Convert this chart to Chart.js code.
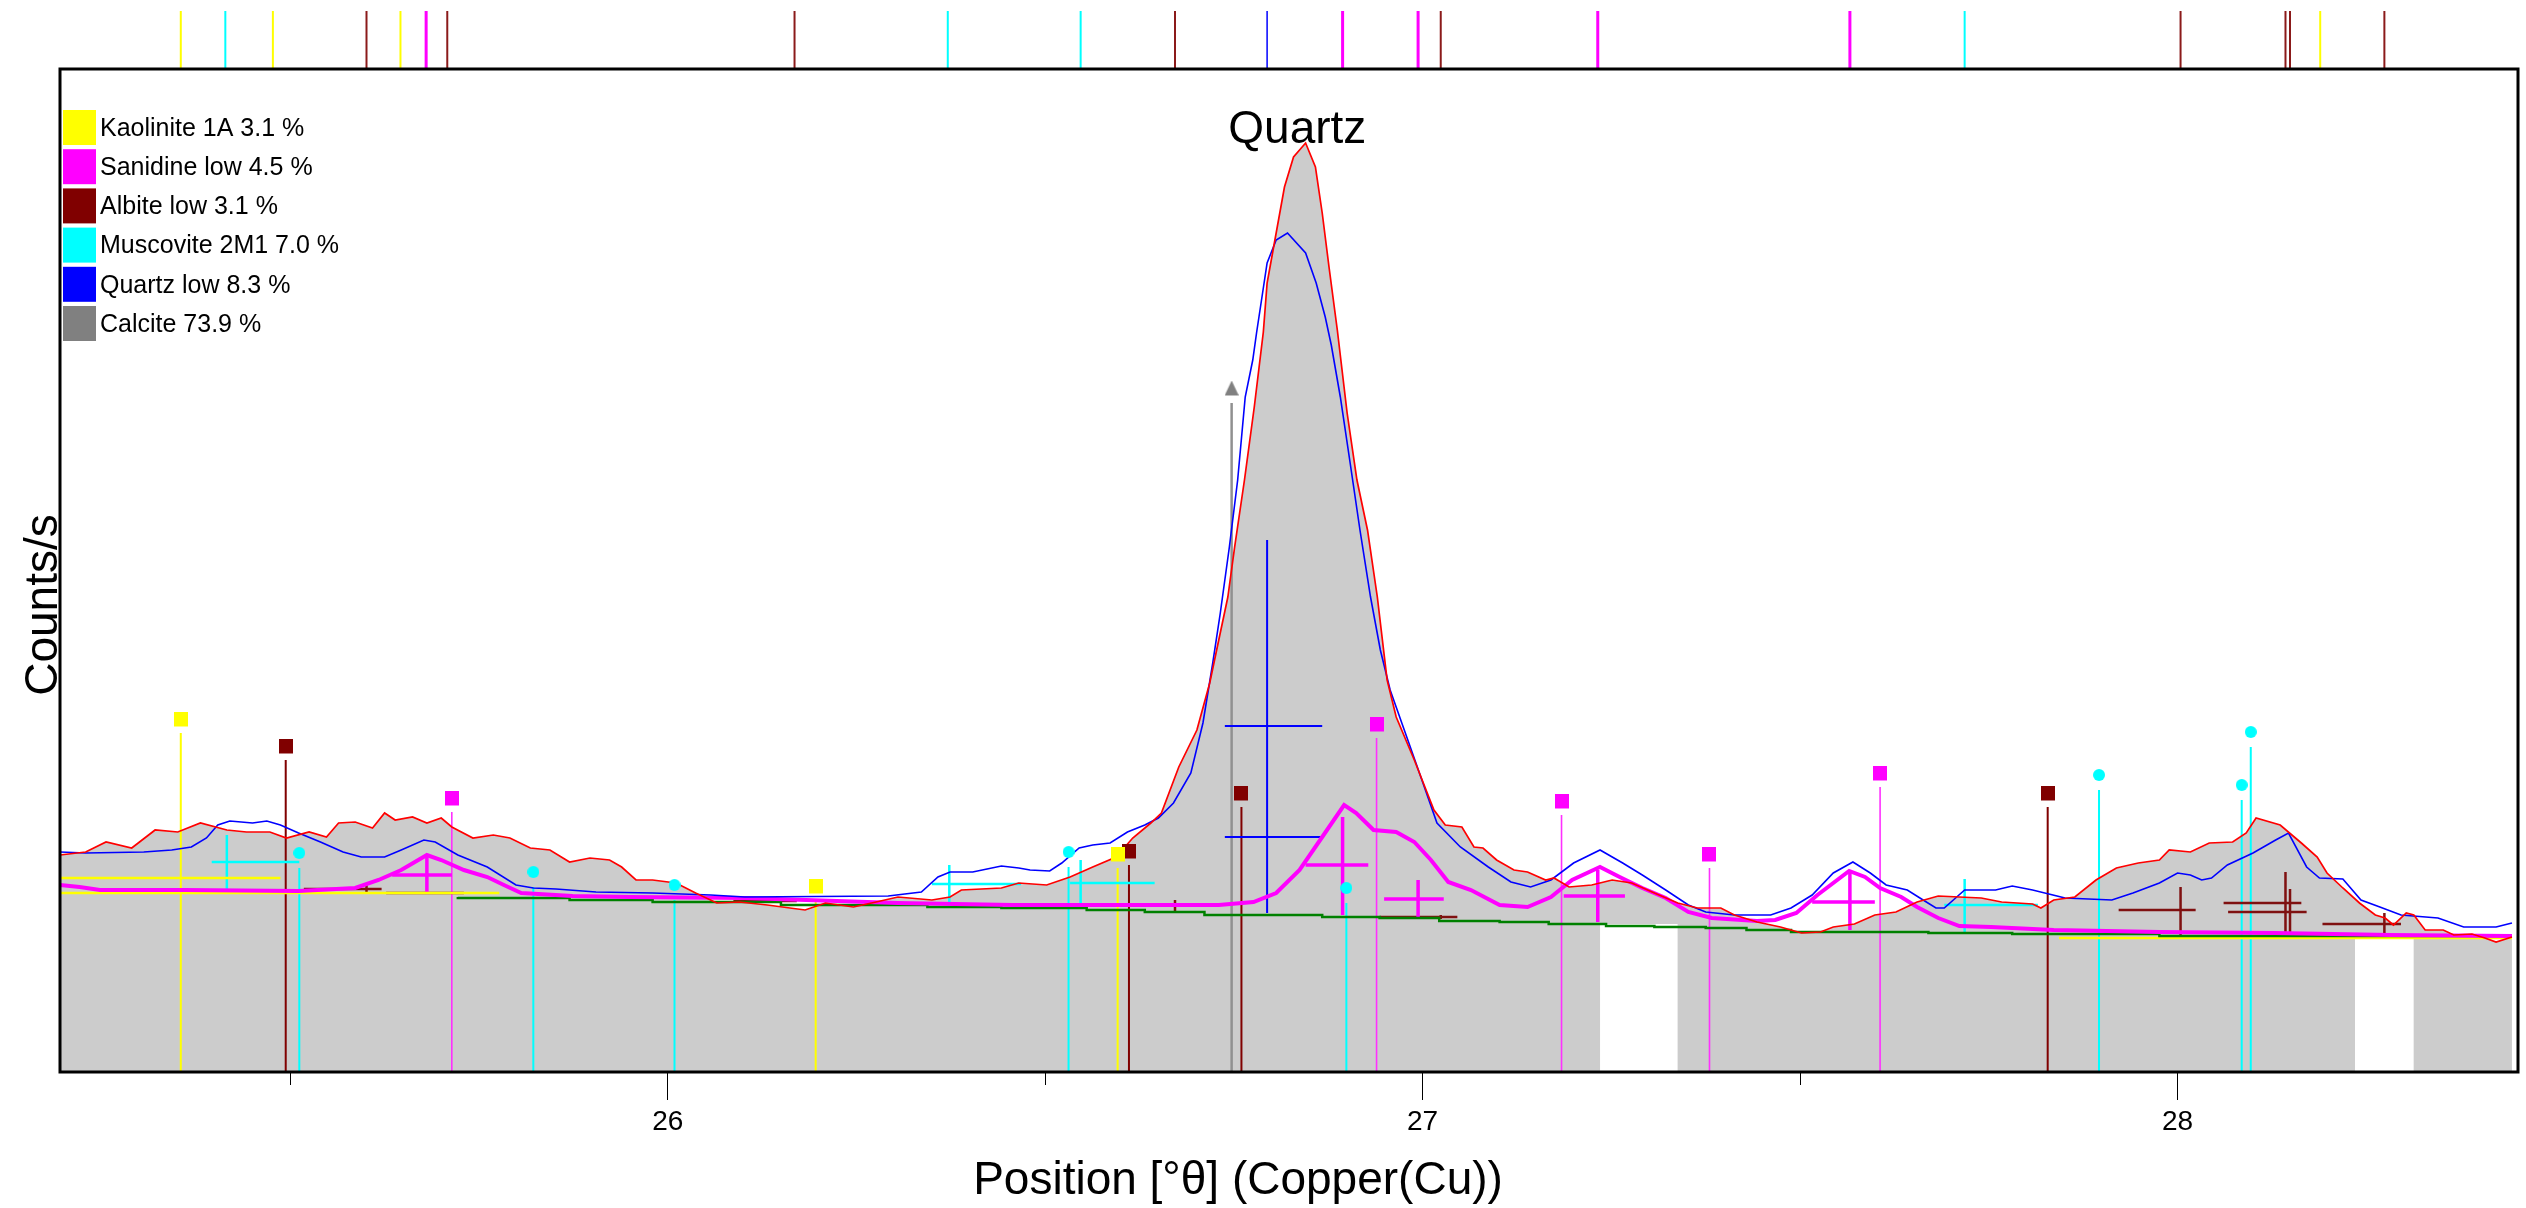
<!DOCTYPE html>
<html>
<head>
<meta charset="utf-8">
<script src="https://cdn.jsdelivr.net/npm/chart.js@4.4.0/dist/chart.umd.min.js"></script>
<style>
  html, body { margin: 0; padding: 0; background: #fff; }
  #wrap { width: 2526px; height: 1208px; }
</style>
</head>
<body>
<div id="wrap"><canvas id="xrd" width="2526" height="1208"></canvas></div>
<script>
// axis range (degrees) and counts
const xMin = 25.195, xMax = 28.451;
const yMax = 1003;
const xMinorTicks = [25.5, 26.5, 27.5];

// measured profile (red)
const observed = [
  [25.195,217],[25.229,220],[25.256,230],[25.290,224],[25.321,242],[25.351,240],[25.381,249],[25.416,242],[25.442,240],[25.473,240],
  [25.495,234],[25.525,240],[25.548,235],[25.564,249],[25.586,250],[25.609,244],[25.625,259],[25.639,252],[25.662,255],[25.681,249],
  [25.700,254],[25.714,245],[25.742,234],[25.769,237],[25.791,234],[25.818,224],[25.844,222],[25.870,210],[25.897,214],[25.923,212],
  [25.939,205],[25.958,192],[25.980,192],[26.011,189],[26.037,179],[26.065,169],[26.095,170],[26.132,167],[26.182,162],[26.209,169],
  [26.246,165],[26.276,170],[26.305,175],[26.350,172],[26.374,175],[26.389,182],[26.442,184],[26.465,189],[26.502,187],[26.533,195],
  [26.563,205],[26.594,215],[26.616,234],[26.640,249],[26.654,259],[26.677,305],[26.701,342],[26.718,389],[26.728,425],[26.742,475],
  [26.751,525],[26.764,592],[26.777,665],[26.789,740],[26.794,789],[26.806,839],[26.817,885],[26.829,915],[26.845,929],[26.858,905],
  [26.867,859],[26.876,805],[26.887,742],[26.900,659],[26.913,592],[26.927,542],[26.940,475],[26.953,392],[26.965,355],[26.989,312],
  [27.015,262],[27.030,247],[27.052,245],[27.068,225],[27.080,224],[27.098,212],[27.121,202],[27.139,200],[27.163,192],[27.174,194],
  [27.194,185],[27.224,187],[27.251,192],[27.277,189],[27.307,179],[27.338,169],[27.364,164],[27.395,164],[27.413,157],[27.443,150],
  [27.474,145],[27.502,139],[27.527,140],[27.544,145],[27.572,148],[27.599,157],[27.627,160],[27.655,170],[27.683,176],[27.711,175],
  [27.740,174],[27.767,170],[27.808,168],[27.819,164],[27.836,172],[27.864,175],[27.892,192],[27.919,204],[27.948,209],[27.976,212],
  [27.989,222],[28.017,220],[28.042,229],[28.073,230],[28.091,239],[28.104,254],[28.136,247],[28.164,229],[28.185,215],[28.198,199],
  [28.219,184],[28.241,169],[28.262,157],[28.275,154],[28.286,147],[28.303,159],[28.313,157],[28.328,142],[28.352,142],[28.366,137],
  [28.390,138],[28.407,134],[28.422,130],[28.443,135]
];

// calculated profile (blue)
const calculated = [
  [25.195,220],[25.229,219],[25.306,220],[25.343,222],[25.369,225],[25.389,234],[25.404,247],[25.420,251],[25.450,249],[25.469,251],
  [25.487,247],[25.511,239],[25.540,230],[25.570,220],[25.594,215],[25.625,215],[25.647,222],[25.677,232],[25.692,230],[25.722,217],
  [25.761,205],[25.799,187],[25.822,184],[25.852,183],[25.905,180],[25.980,179],[26.057,177],[26.102,175],[26.292,176],[26.336,180],
  [26.358,195],[26.374,200],[26.404,200],[26.442,206],[26.465,204],[26.480,202],[26.506,201],[26.522,209],[26.545,224],[26.563,227],
  [26.586,229],[26.609,240],[26.632,247],[26.650,254],[26.670,269],[26.693,299],[26.709,349],[26.722,409],[26.732,459],[26.744,525],
  [26.755,592],[26.765,675],[26.775,712],[26.780,739],[26.788,779],[26.794,809],[26.806,832],[26.821,839],[26.845,819],[26.859,789],
  [26.871,755],[26.879,727],[26.891,675],[26.904,609],[26.917,542],[26.931,475],[26.944,422],[26.957,382],[26.993,305],[27.019,249],
  [27.050,225],[27.087,205],[27.117,190],[27.143,185],[27.170,192],[27.200,209],[27.235,222],[27.265,209],[27.291,197],[27.322,182],
  [27.352,167],[27.375,160],[27.413,157],[27.461,157],[27.488,164],[27.516,177],[27.544,199],[27.570,210],[27.593,199],[27.614,187],
  [27.642,182],[27.663,172],[27.680,164],[27.691,164],[27.718,182],[27.759,182],[27.781,186],[27.808,182],[27.851,174],[27.913,172],
  [27.941,179],[27.976,189],[28.000,199],[28.017,197],[28.032,192],[28.045,194],[28.066,207],[28.100,219],[28.130,232],[28.147,239],
  [28.171,205],[28.188,194],[28.219,193],[28.243,172],[28.268,165],[28.296,157],[28.345,154],[28.379,145],[28.422,145],[28.443,149]
];

// sanidine profile (thick magenta)
const sanidineProfile = [
  [25.195,187],[25.221,185],[25.248,182],[25.359,182],[25.511,181],[25.586,184],[25.617,192],[25.647,202],[25.681,217],[25.700,212],
  [25.730,202],[25.761,195],[25.783,187],[25.806,179],[25.874,176],[25.950,175],[26.102,174],[26.305,169],[26.457,167],[26.730,167],
  [26.776,170],[26.806,179],[26.837,202],[26.867,235],[26.896,267],[26.912,259],[26.935,242],[26.965,240],[26.989,230],[27.011,212],
  [27.034,190],[27.064,182],[27.102,167],[27.139,165],[27.170,175],[27.198,192],[27.235,205],[27.261,195],[27.291,184],[27.322,174],
  [27.352,160],[27.383,154],[27.443,151],[27.467,152],[27.495,159],[27.523,177],[27.565,201],[27.586,195],[27.606,184],[27.634,175],
  [27.655,165],[27.683,154],[27.711,146],[27.753,145],[27.836,142],[27.976,140],[28.130,139],[28.282,137],[28.443,136]
];

// background (green)
const background = [
  [25.722,175],[25.870,174],[25.980,172],[26.150,170],[26.344,167],[26.442,165],[26.555,164],[26.632,162],[26.711,160],[26.867,157],
  [26.943,155],[27.022,154],[27.102,151],[27.167,150],[27.243,148],[27.307,146],[27.375,145],[27.429,144],[27.488,142],[27.670,140],
  [27.781,139],[27.976,138],[28.443,136]
];

// kaolinite profile pieces: [x1, y1, x2, y2]
const kaoliniteLines = [[25.195,179,25.777,179],[25.195,194,25.487,194],[27.843,134,28.443,134]];

// excluded ranges: [from, to, level]
const excluded = [[27.235,27.338,148],[28.235,28.313,136]];

// phases
const phaseNames = ['Kaolinite 1A', 'Sanidine low', 'Albite low', 'Muscovite 2M1', 'Quartz low', 'Calcite'];
const phasePercent = [3.1, 4.5, 3.1, 7.0, 8.3, 73.9];
const phaseColors = ['#ffff00', '#ff00ff', '#800000', '#00ffff', '#0000ff', '#808080'];

// reference sticks: [position, height]
const kaoliniteSticks = [[25.355,339],[26.196,172],[26.596,204]];
const albiteSticks = [[25.494,312],[26.611,207],[26.760,265],[27.828,265]];
const sanidineSticks = [[25.714,260],[26.939,334],[27.184,257],[27.380,204],[27.606,285]];
const muscoviteSticks = [[25.512,204],[25.822,185],[26.009,172],[26.531,205],[26.899,169],[27.896,282],[28.085,272],[28.097,325]];
const calciteSticks = [[26.747,669]];

// fitted peaks: [position, bottom, top, bar level, bar from, bar to]
const quartzCrosses = [[26.794,159,532,346,26.738,26.867],[26.794,159,532,235,26.738,26.867]];
const sanidineCrosses = [
  [25.681,179,217,197,25.635,25.714],[26.894,157,255,207,26.845,26.928],[26.994,155,192,173,26.949,27.028],
  [27.232,150,202,176,27.187,27.268],[27.566,142,200,170,27.516,27.599]
];
const muscoviteCrosses = [
  [25.416,179,237,210,25.396,25.512],[26.373,167,207,188,26.350,26.468],[26.547,164,212,189,26.533,26.645],
  [27.718,139,193,167,27.691,27.815]
];
const albiteCrosses = [
  [25.601,179,189,183,25.518,25.621],[25.708,179,179,179,25.627,25.730],[26.168,171,171,171,26.087,26.171],
  [26.672,161,172,167,26.590,26.693],[27.024,153,157,155,26.943,27.046],[28.004,137,185,162,27.922,28.024],
  [28.143,137,200,169,28.061,28.164],[28.149,137,183,160,28.067,28.171],[28.274,137,159,148,28.192,28.296]
];

// reference positions shown above the frame
const kaoliniteRefs = [25.355, 25.477, 25.646, 28.189];
const muscoviteRefs = [25.414, 26.371, 26.547, 27.718];
const albiteRefs = [25.601, 25.708, 26.168, 26.672, 27.024, 28.004, 28.143, 28.149, 28.274];
const sanidineRefs = [25.680, 26.894, 26.994, 27.232, 27.566];
const quartzRefs = [26.794];

const peakLabel = ['Quartz', 26.834, 929];

const FONT = '"Liberation Sans", Arial, sans-serif';

function pts(list) {
  return list.map(p => ({ x: p[0], y: p[1] }));
}

// list of [x1, y1, x2, y2] -> broken polyline
function segments(list) {
  const out = [];
  list.forEach(s => {
    out.push({ x: s[0], y: s[1] }, { x: s[2], y: s[3] }, { x: s[2], y: null });
  });
  return out;
}

function stickSegments(sticks) {
  return segments(sticks.map(s => [s[0], 0, s[0], s[1]]));
}

function crossSegments(crosses) {
  const segs = [];
  crosses.forEach(c => {
    segs.push([c[0], c[1], c[0], c[2]]);
    segs.push([c[4], c[3], c[5], c[3]]);
  });
  return segments(segs);
}

// marker image that sits a little above the point it belongs to
function markerImage(shape, color, w, h, lift) {
  const c = document.createElement('canvas');
  c.width = w;
  c.height = Math.round(2 * (lift + h / 2));
  const g = c.getContext('2d');
  g.fillStyle = color;
  if (shape === 'rect') {
    g.fillRect(0, 0, w, h);
  } else if (shape === 'circle') {
    g.beginPath();
    g.arc(w / 2, h / 2, w / 2, 0, Math.PI * 2);
    g.fill();
  } else {
    g.beginPath();
    g.moveTo(w / 2, 0);
    g.lineTo(w, h);
    g.lineTo(0, h);
    g.closePath();
    g.fill();
  }
  return c;
}

function line(data, color, width, order, extra) {
  return Object.assign({
    data: data,
    borderColor: color,
    borderWidth: width,
    pointRadius: 0,
    fill: false,
    tension: 0,
    spanGaps: false,
    order: order
  }, extra || {});
}

function markers(sticks, style, order) {
  return {
    data: pts(sticks),
    showLine: false,
    pointRadius: 7,
    pointHoverRadius: 7,
    pointStyle: style,
    order: order
  };
}

const datasets = [
  line(pts(observed), '#ff0000', 1.7, 1, { fill: 'origin', backgroundColor: '#cccccc' }),
  line(pts(calculated), '#0000ff', 1.6, 2),
  line(pts(sanidineProfile), '#ff00ff', 4, 3),
  line(pts(background), '#008000', 2.5, 4, { stepped: 'after' }),
  line(segments(kaoliniteLines), '#ffff00', 2.5, 5),
  line(crossSegments(quartzCrosses), '#0000ff', 2, 6),
  line(crossSegments(sanidineCrosses), '#ff00ff', 3.5, 6),
  line(crossSegments(muscoviteCrosses), '#00ffff', 2.5, 6),
  line(crossSegments(albiteCrosses), '#7f1010', 2.5, 6),
  line(stickSegments(kaoliniteSticks), '#ffff00', 2, 7),
  line(stickSegments(albiteSticks), '#800000', 2, 7),
  line(stickSegments(sanidineSticks), '#ff30ff', 1.6, 7),
  line(stickSegments(muscoviteSticks), '#00ffff', 2, 7),
  line(stickSegments(calciteSticks), '#909090', 2.5, 7),
  markers(kaoliniteSticks, markerImage('rect', '#ffff00', 14, 15, 14), -1),
  markers(albiteSticks, markerImage('rect', '#800000', 14, 15, 14), -1),
  markers(sanidineSticks, markerImage('rect', '#ff00ff', 14, 15, 14), -1),
  markers(muscoviteSticks, markerImage('circle', '#00ffff', 12, 12, 15), -1),
  markers(calciteSticks, markerImage('triangle', '#808080', 14, 15, 15), -1)
];

excluded.forEach(g => {
  datasets.push({
    data: [{ x: g[0], y: 0 }, { x: g[0], y: g[2] }, { x: g[1], y: g[2] }, { x: g[1], y: 0 }],
    borderWidth: 0,
    borderColor: 'transparent',
    backgroundColor: '#ffffff',
    fill: 'origin',
    pointRadius: 0,
    order: 0
  });
});

const refTicks = [
  [kaoliniteRefs, '#ffff00', 2],
  [muscoviteRefs, '#00ffff', 2],
  [albiteRefs, '#8b1a1a', 2],
  [sanidineRefs, '#ff00ff', 3],
  [quartzRefs, '#0000ff', 1.5]
];

const decorations = {
  id: 'decorations',
  afterDraw(chart) {
    const { ctx, chartArea: area, scales: { x, y } } = chart;
    ctx.save();

    // reference lines above the frame
    refTicks.forEach(([list, color, width]) => {
      ctx.strokeStyle = color;
      ctx.lineWidth = width;
      list.forEach(v => {
        const px = x.getPixelForValue(v);
        ctx.beginPath();
        ctx.moveTo(px, 11);
        ctx.lineTo(px, area.top);
        ctx.stroke();
      });
    });

    // minor ticks
    ctx.strokeStyle = '#000';
    ctx.lineWidth = 1;
    xMinorTicks.forEach(v => {
      const px = Math.round(x.getPixelForValue(v)) + 0.5;
      ctx.beginPath();
      ctx.moveTo(px, area.bottom);
      ctx.lineTo(px, area.bottom + 13);
      ctx.stroke();
    });

    // frame
    ctx.lineWidth = 3;
    ctx.strokeRect(area.left, area.top, area.right - area.left, area.bottom - area.top);

    // legend
    ctx.font = '25px ' + FONT;
    ctx.textAlign = 'left';
    ctx.textBaseline = 'middle';
    phaseNames.forEach((name, i) => {
      const top = area.top + 41 + i * 39.2;
      ctx.fillStyle = phaseColors[i];
      ctx.fillRect(area.left + 3, top, 33, 35);
      ctx.fillStyle = '#000';
      ctx.fillText(name + ' ' + phasePercent[i].toFixed(1) + ' %', area.left + 40, top + 19);
    });

    // peak label
    ctx.font = '46px ' + FONT;
    ctx.textAlign = 'center';
    ctx.textBaseline = 'alphabetic';
    ctx.fillText(peakLabel[0], x.getPixelForValue(peakLabel[1]), y.getPixelForValue(peakLabel[2]));

    // axis titles
    ctx.fillText('Position [°θ] (Copper(Cu))', 1238, 1194);
    ctx.translate(57, 605);
    ctx.rotate(-Math.PI / 2);
    ctx.fillText('Counts/s', 0, 0);

    ctx.restore();
  }
};

new Chart(document.getElementById('xrd').getContext('2d'), {
  type: 'line',
  data: { datasets: datasets },
  options: {
    responsive: false,
    devicePixelRatio: 1,
    animation: false,
    layout: { padding: { top: 69, right: 4, left: 0, bottom: 0 } },
    plugins: {
      legend: { display: false },
      tooltip: { enabled: false },
      filler: { drawTime: 'beforeDatasetsDraw' }
    },
    scales: {
      x: {
        type: 'linear',
        min: xMin,
        max: xMax,
        ticks: {
          stepSize: 1,
          includeBounds: false,
          autoSkip: false,
          maxRotation: 0,
          padding: 5,
          color: '#000',
          font: { family: FONT, size: 28 }
        },
        grid: {
          drawOnChartArea: false,
          drawTicks: true,
          tickLength: 28,
          tickColor: '#000',
          tickWidth: 1
        },
        border: { display: false },
        afterFit: scale => { scale.height = 136; }
      },
      y: {
        min: 0,
        max: yMax,
        ticks: { display: false },
        grid: { display: false },
        border: { display: false },
        afterFit: scale => { scale.width = 60; }
      }
    }
  },
  plugins: [decorations]
});
</script>
</body>
</html>
